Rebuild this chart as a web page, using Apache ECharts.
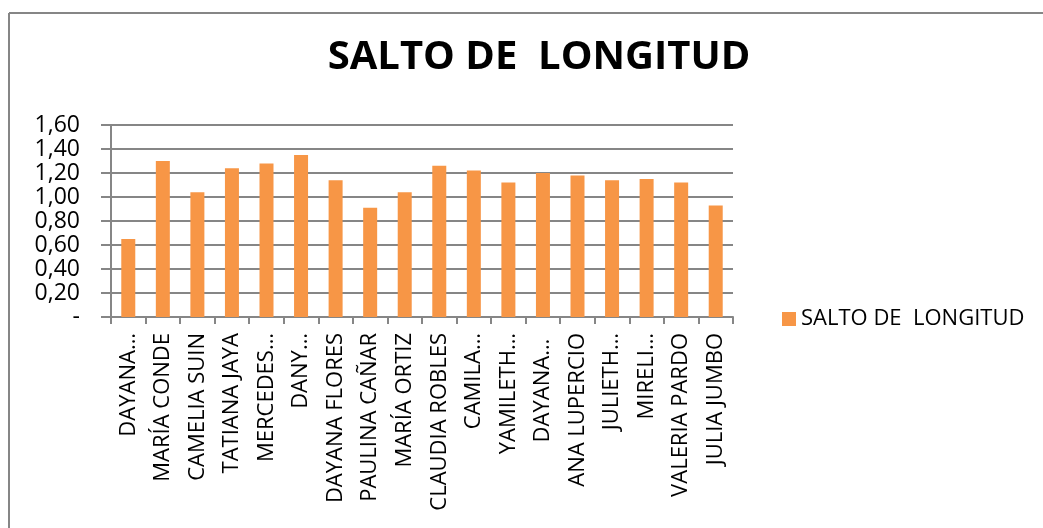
<!DOCTYPE html>
<html>
<head>
<meta charset="utf-8">
<script src="https://cdn.jsdelivr.net/npm/echarts@6/dist/echarts.min.js"></script>
<style>
  html, body { margin: 0; padding: 0; background: #fff; }
  #chart { width: 1043px; height: 528px; }
</style>
</head>
<body>
<div id="chart"></div>
<script>
const seriesName = 'SALTO DE  LONGITUD';
// names as they appear on the axis (long ones are cut off in the original)
const categories = [
  'DAYANA…', 'MARÍA CONDE', 'CAMELIA SUIN', 'TATIANA JAYA', 'MERCEDES…',
  'DANY…', 'DAYANA FLORES', 'PAULINA CAÑAR', 'MARÍA ORTIZ', 'CLAUDIA ROBLES',
  'CAMILA…', 'YAMILETH…', 'DAYANA… ', 'ANA LUPERCIO', 'JULIETH…',
  'MIRELI…', 'VALERIA PARDO', 'JULIA JUMBO'
];
const values = [0.65, 1.30, 1.04, 1.24, 1.28, 1.35, 1.14, 0.91, 1.04, 1.26,
                1.22, 1.12, 1.20, 1.18, 1.14, 1.15, 1.12, 0.93];

const font = 'Open Sans';
const chart = echarts.init(document.getElementById('chart'));
const option = {
  animation: false,
  backgroundColor: '#ffffff',
  title: {
    text: seriesName,
    left: 534,
    top: 33,
    textAlign: 'center',
    textStyle: { fontFamily: font, fontSize: 40, fontWeight: 'bold', color: '#000' }
  },
  legend: {
    data: [seriesName],
    left: 777,
    top: 303,
    itemWidth: 14,
    itemHeight: 14,
    icon: 'rect',
    itemGap: 6,
    textStyle: { fontFamily: font, fontSize: 22, color: '#000' }
  },
  grid: { left: 111, right: 310, top: 125, bottom: 211, containLabel: false },
  xAxis: {
    type: 'category',
    data: categories,
    axisLine: { lineStyle: { color: '#868686', width: 2 } },
    axisTick: { show: true, length: 7, lineStyle: { color: '#868686', width: 2 } },
    axisLabel: {
      rotate: 90, interval: 0, margin: 16,
      fontFamily: font, fontSize: 22, color: '#000'
    }
  },
  yAxis: {
    type: 'value',
    min: 0, max: 1.6, interval: 0.2,
    axisLine: { show: true, lineStyle: { color: '#868686', width: 2 } },
    axisTick: { show: true, length: 10, lineStyle: { color: '#868686', width: 2 } },
    splitLine: { lineStyle: { color: '#868686', width: 2 } },
    axisLabel: {
      margin: 31,
      fontFamily: font, fontSize: 23, color: '#000',
      formatter: v => v === 0 ? '-' : v.toFixed(2).replace('.', ',')
    }
  },
  series: [{
    name: seriesName,
    type: 'bar',
    data: values,
    barWidth: 14,
    itemStyle: { color: '#F79646' }
  }],
  graphic: [
    { type: 'line', shape: { x1: 9, y1: 13, x2: 1043, y2: 13 }, style: { stroke: '#868686', lineWidth: 2 } },
    { type: 'line', shape: { x1: 9, y1: 13, x2: 9, y2: 528 }, style: { stroke: '#868686', lineWidth: 2 } }
  ]
};
chart.setOption(option);
</script>
</body>
</html>
